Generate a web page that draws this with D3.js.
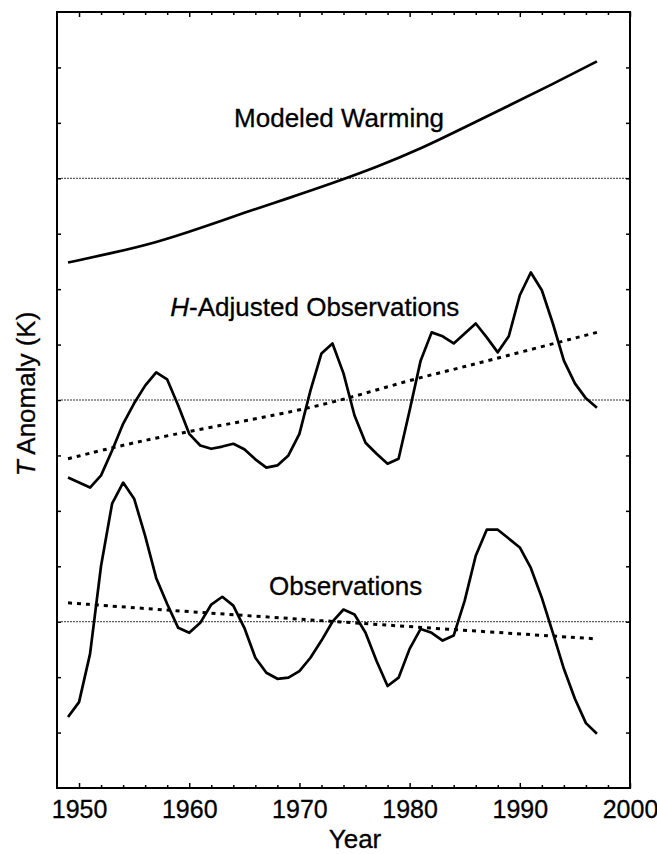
<!DOCTYPE html>
<html>
<head>
<meta charset="utf-8">
<script src="https://cdnjs.cloudflare.com/ajax/libs/d3/7.8.5/d3.min.js"></script>
<style>
	body { margin: 0; background: #fff; }
	svg { display: block; font-family: "Liberation Sans", Arial, Helvetica, sans-serif; }
	.frame { fill: none; stroke: #000; stroke-width: 2; }
	.axis path { display: none; }
	.axis line { stroke: #000; stroke-width: 1.5; }
	.axis text { font-size: 25px; fill: #000; stroke: #000; stroke-width: 0.3; font-family: "Liberation Sans", Arial, sans-serif; }
	.ref { stroke: #333; stroke-width: 1; stroke-dasharray: 2,1; }
	.series { fill: none; stroke: #000; stroke-width: 2.7; stroke-linejoin: round; }
	.trend { fill: none; stroke: #000; stroke-width: 3; stroke-dasharray: 4,5; }
	.label { font-size: 26px; fill: #000; stroke: #000; stroke-width: 0.3; }
</style>
</head>
<body>
<svg id="chart"></svg>
<script>
// Data (y in K, curves are offset from each other)
const years = [1949,1950,1951,1952,1953,1954,1955,1956,1957,1958,
	1959,1960,1961,1962,1963,1964,1965,1966,1967,1968,
	1969,1970,1971,1972,1973,1974,1975,1976,1977,1978,
	1979,1980,1981,1982,1983,1984,1985,1986,1987,1988,
	1989,1990,1991,1992,1993,1994,1995,1996,1997];

const hAdjusted = [0.560,0.551,0.542,0.564,0.609,0.657,0.694,0.726,0.750,0.737,
	0.690,0.639,0.618,0.612,0.616,0.621,0.611,0.593,0.578,0.582,
	0.600,0.639,0.717,0.784,0.802,0.748,0.672,0.623,0.603,0.585,
	0.594,0.681,0.771,0.822,0.815,0.802,0.820,0.838,0.813,0.786,
	0.815,0.889,0.930,0.898,0.838,0.771,0.730,0.703,0.686];

const observed = [0.128,0.155,0.242,0.401,0.513,0.551,0.522,0.455,0.379,0.332,
	0.289,0.280,0.298,0.331,0.345,0.329,0.289,0.235,0.208,0.197,
	0.199,0.211,0.235,0.266,0.300,0.322,0.313,0.280,0.229,0.184,
	0.199,0.251,0.287,0.280,0.266,0.275,0.338,0.419,0.466,0.466,
	0.450,0.434,0.397,0.343,0.280,0.215,0.161,0.117,0.098];

const modelYears = [1949,1953,1957,1961,1965,1969,1973,1977,1981,1985,1989,1993,1997];
const modeled = [0.948,0.965,0.984,1.010,1.038,1.064,1.091,1.120,1.153,1.192,1.231,1.270,1.311];

const hTrendYears = [1949,1955,1962,1970,1975,1980,1985,1990,1997];
const hTrend = [0.594,0.624,0.651,0.681,0.706,0.736,0.760,0.786,0.822];

const obsTrendYears = [1949,1960,1972,1983,1997];
const obsTrend = [0.334,0.318,0.302,0.287,0.269];

const refLevels = [0.3, 0.7, 1.1];
const majorYears = [1950,1960,1970,1980,1990,2000];
const minorYears = [1952,1954,1956,1958,1962,1964,1966,1968,1972,1974,1976,1978,
	1982,1984,1986,1988,1992,1994,1996,1998];
const yTicks = [0.1,0.2,0.3,0.4,0.5,0.6,0.7,0.8,0.9,1.0,1.1,1.2,1.3];

const labels = [
	{text: "Modeled Warming", italic: "", x: 1973.6, y: 1.192},
	{text: "-Adjusted Observations", italic: "H", x: 1971.4, y: 0.852},
	{text: "Observations", italic: "", x: 1974.2, y: 0.349}
];

class AnomalyChart{
	constructor(){
		const svgWidth = 657;
		const svgHeight = 854;
		this.margin = {top: 12, right: 27, bottom: 66, left: 57};
		this.width = svgWidth - this.margin.left - this.margin.right;
		this.height = svgHeight - this.margin.top - this.margin.bottom;

		this.svg = d3.select('#chart')
			.attr("width", svgWidth)
			.attr("height", svgHeight);
		this.svg.append("rect")
			.attr("width", svgWidth)
			.attr("height", svgHeight)
			.attr("fill", "#fff");

		this.g = this.svg.append("g")
			.attr("transform", "translate(" + this.margin.left + "," + this.margin.top + ")");

		this.x = d3.scaleLinear().domain([1948, 2000]).range([0, this.width]);
		this.y = d3.scaleLinear().domain([0, 1.4]).range([this.height, 0]);
	}

	draw(){
		const x = this.x, y = this.y;

		// dotted zero lines for each curve
		this.g.selectAll(".ref")
			.data(refLevels)
			.enter().append("line")
				.attr("class", "ref")
				.attr("x1", 4)
				.attr("x2", this.width)
				.attr("y1", d => y(d))
				.attr("y2", d => y(d));

		// axes, ticks pointing inward
		this.g.append("g")
			.attr("class", "axis")
			.attr("transform", "translate(0," + this.height + ")")
			.call(d3.axisBottom(x).tickValues(majorYears).tickSizeInner(-5).tickSizeOuter(0)
				.tickPadding(12).tickFormat(d3.format("d")));
		this.g.append("g")
			.attr("class", "axis")
			.attr("transform", "translate(0," + this.height + ")")
			.call(d3.axisBottom(x).tickValues(minorYears).tickSizeInner(-3).tickSizeOuter(0).tickFormat(""));
		this.g.append("g")
			.attr("class", "axis")
			.call(d3.axisTop(x).tickValues(majorYears).tickSizeInner(-5).tickSizeOuter(0).tickFormat(""));
		this.g.append("g")
			.attr("class", "axis")
			.call(d3.axisTop(x).tickValues(minorYears).tickSizeInner(-3).tickSizeOuter(0).tickFormat(""));
		this.g.append("g")
			.attr("class", "axis")
			.call(d3.axisLeft(y).tickValues(yTicks).tickSizeInner(-4).tickSizeOuter(0).tickFormat(""));
		this.g.append("g")
			.attr("class", "axis")
			.attr("transform", "translate(" + this.width + ",0)")
			.call(d3.axisRight(y).tickValues(yTicks).tickSizeInner(-4).tickSizeOuter(0).tickFormat(""));

		this.g.append("rect")
			.attr("class", "frame")
			.attr("width", this.width)
			.attr("height", this.height);

		const line = d3.line().x(d => x(d[0])).y(d => y(d[1]));
		const smooth = d3.line().x(d => x(d[0])).y(d => y(d[1])).curve(d3.curveBasis);

		this.g.append("path")
			.attr("class", "series")
			.attr("d", smooth(modelYears.map((yr, i) => [yr, modeled[i]])));
		this.g.append("path")
			.attr("class", "series")
			.attr("d", line(years.map((yr, i) => [yr, hAdjusted[i]])));
		this.g.append("path")
			.attr("class", "series")
			.attr("d", line(years.map((yr, i) => [yr, observed[i]])));
		this.g.append("path")
			.attr("class", "trend")
			.attr("d", smooth(hTrendYears.map((yr, i) => [yr, hTrend[i]])));
		this.g.append("path")
			.attr("class", "trend")
			.attr("d", smooth(obsTrendYears.map((yr, i) => [yr, obsTrend[i]])));

		// curve labels
		const t = this.g.selectAll(".label")
			.data(labels)
			.enter().append("text")
				.attr("class", "label")
				.attr("text-anchor", "middle")
				.attr("x", d => x(d.x))
				.attr("y", d => y(d.y));
		t.append("tspan")
			.style("font-style", "italic")
			.text(d => d.italic);
		t.append("tspan")
			.text(d => d.text);

		// axis titles
		this.svg.append("text")
			.attr("class", "label")
			.attr("text-anchor", "middle")
			.attr("x", 355)
			.attr("y", 848)
			.text("Year");

		const yl = this.svg.append("text")
			.attr("class", "label")
			.attr("text-anchor", "middle")
			.attr("transform", "translate(35,394) rotate(-90)");
		yl.append("tspan").style("font-style", "italic").text("T");
		yl.append("tspan").text(" Anomaly (K)");
	}
}

const chart = new AnomalyChart();
chart.draw();
</script>
</body>
</html>
